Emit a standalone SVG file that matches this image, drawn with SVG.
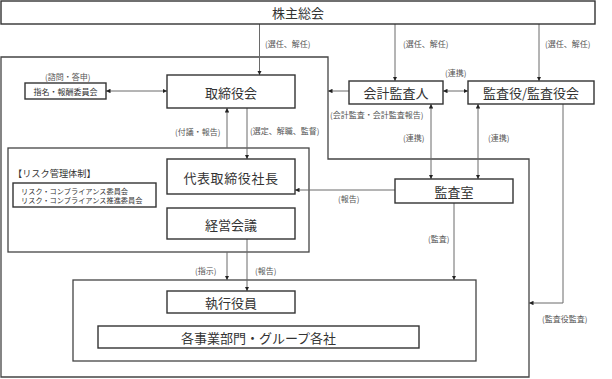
<svg xmlns="http://www.w3.org/2000/svg" width="612" height="379" viewBox="0 0 612 379">
<defs>
<marker id="ah" viewBox="0 0 10 10" refX="10" refY="5" markerWidth="4.5" markerHeight="4.5" markerUnits="userSpaceOnUse" orient="auto-start-reverse">
<path d="M0,0 L10,5 L0,10 z" fill="#222"/>
</marker>
<style>
.box{fill:#fff;stroke:#333;stroke-width:1.4}
.frame{fill:none;stroke:#444;stroke-width:1.3}
.c{fill:none;stroke:#6a6a6a;stroke-width:1}
.t{font-family:"Noto Sans CJK JP","Noto Sans",sans-serif;fill:#333;font-size:13px;text-anchor:middle;dominant-baseline:central}
.l{font-family:"Noto Sans CJK JP","Noto Sans",sans-serif;fill:#555;font-size:8px;dominant-baseline:central}
.s{font-family:"Noto Sans CJK JP","Noto Sans",sans-serif;fill:#333;dominant-baseline:central}
</style>
</defs>
<rect width="612" height="379" fill="#fff"/>
<g id="frames">
<polygon class="frame" points="1,57 328,57 328,159 529,159 529,377 1,377"/>
<rect id="risk-frame" class="frame" x="8" y="148" width="301" height="104"/>
<rect id="exec-frame" class="frame" x="73" y="280" width="403" height="81"/>
</g>
<g id="connectors">
<path class="c" d="M259.5,24 V75" marker-end="url(#ah)"/>
<path class="c" d="M395,24 V81" marker-end="url(#ah)"/>
<path class="c" d="M539,24 V81" marker-end="url(#ah)"/>
<path class="c" d="M106,91 H167" marker-start="url(#ah)" marker-end="url(#ah)"/>
<path class="c" d="M443,91 H468" marker-start="url(#ah)" marker-end="url(#ah)"/>
<path class="c" d="M349,91 H328" marker-end="url(#ah)"/>
<path class="c" d="M431,104 V179" marker-start="url(#ah)" marker-end="url(#ah)"/>
<path class="c" d="M478,104 V179" marker-start="url(#ah)" marker-end="url(#ah)"/>
<path class="c" d="M247,108 V159" marker-end="url(#ah)"/>
<path class="c" d="M227,148 V108" marker-end="url(#ah)"/>
<path class="c" d="M395,190 H295" marker-end="url(#ah)"/>
<path class="c" d="M454,203 V280" marker-end="url(#ah)"/>
<path class="c" d="M563,104 V303 H529" marker-end="url(#ah)"/>
<path class="c" d="M227,252 V280" marker-end="url(#ah)"/>
<path class="c" d="M247,239 V291" marker-end="url(#ah)"/>
<text class="l" x="265" y="43">(選任、解任)</text>
<text class="l" x="403" y="43">(選任、解任)</text>
<text class="l" x="545" y="43">(選任、解任)</text>
<text class="l" x="45" y="76">(諮問・答申)</text>
<text class="l" x="445" y="72">(連携)</text>
<text class="l" x="330" y="114">(会計監査・会計監査報告)</text>
<text class="l" x="175" y="131">(付議・報告)</text>
<text class="l" x="250" y="130">(選定、解職、監督)</text>
<text class="l" x="403" y="137">(連携)</text>
<text class="l" x="488" y="137">(連携)</text>
<text class="l" x="338" y="198">(報告)</text>
<text class="l" x="428" y="238">(監査)</text>
<text class="l" x="195" y="270">(指示)</text>
<text class="l" x="255" y="270">(報告)</text>
<text class="l" x="542" y="318">(監査役監査)</text>
</g>
<g id="shareholders">
<rect class="box" x="1" y="1" width="594" height="23"/>
<text class="t" x="298" y="12.5">株主総会</text>
</g>
<g id="board">
<rect class="box" x="167" y="75" width="128" height="33"/>
<text class="t" x="231" y="92">取締役会</text>
</g>
<g id="nomination">
<rect class="box" x="25" y="83" width="81" height="16"/>
<text class="t" x="65.5" y="91" style="font-size:8px">指名・報酬委員会</text>
</g>
<g id="auditor">
<rect class="box" x="349" y="81" width="94" height="23"/>
<text class="t" x="396" y="92.5">会計監査人</text>
</g>
<g id="kansayaku">
<rect class="box" x="468" y="81" width="126" height="23"/>
<text class="t" x="531" y="92.5">監査役/監査役会</text>
</g>
<g id="risk">
<text class="s" x="13" y="173" style="font-size:9.2px">【リスク管理体制】</text>
<rect class="box" x="13" y="183" width="143" height="24"/>
<text class="s" x="21" y="191" style="font-size:7.2px">リスク・コンプライアンス委員会</text>
<text class="s" x="21" y="200" style="font-size:7.2px">リスク・コンプライアンス推進委員会</text>
</g>
<g id="president">
<rect class="box" x="167" y="159" width="128" height="35"/>
<text class="t" x="231" y="177" style="letter-spacing:0.6px">代表取締役社長</text>
</g>
<g id="management">
<rect class="box" x="167" y="208" width="128" height="31"/>
<text class="t" x="231" y="224">経営会議</text>
</g>
<g id="audit-office">
<rect class="box" x="395" y="179" width="118" height="24"/>
<text class="t" x="454" y="191">監査室</text>
</g>
<g id="officers">
<rect class="box" x="167" y="291" width="128" height="22"/>
<text class="t" x="231" y="302">執行役員</text>
</g>
<g id="divisions">
<rect class="box" x="98" y="326" width="321" height="22"/>
<text class="t" x="258.5" y="337">各事業部門・グループ各社</text>
</g>
</svg>
